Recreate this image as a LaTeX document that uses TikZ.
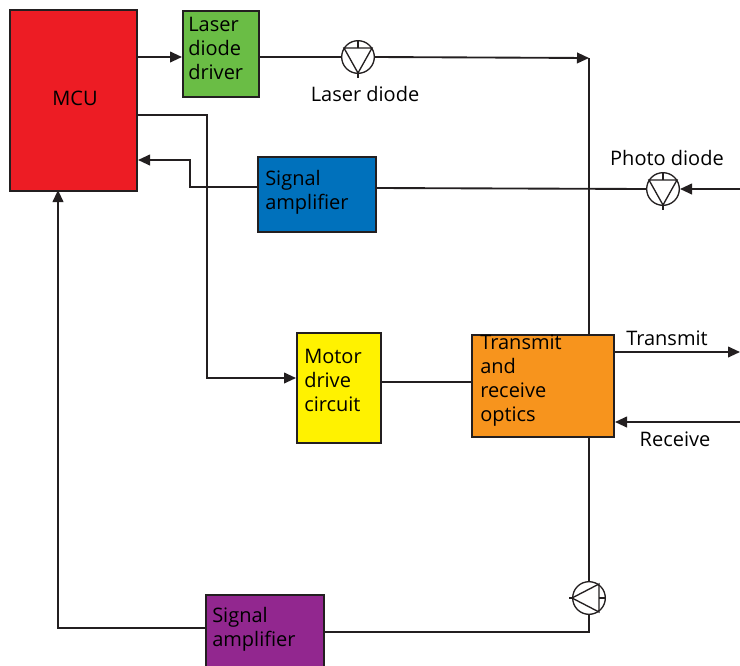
\documentclass[tikz,border=0pt]{standalone}
\usepackage{fontspec}
\setmainfont{Open Sans}
\usetikzlibrary{arrows.meta,calc}
\definecolor{cred}{HTML}{ED1C24}
\definecolor{cgreen}{HTML}{6ABD45}
\definecolor{cblue}{HTML}{0071BC}
\definecolor{cyellow}{HTML}{FFF200}
\definecolor{corange}{HTML}{F7941D}
\definecolor{cpurple}{HTML}{92278F}
\definecolor{ink}{HTML}{231F20}
\tikzset{
 x=0.75pt,y=-0.75pt,
 blockbox/.style={draw=ink,line width=1.5pt,inner sep=0pt,anchor=north west,font=\fontsize{15}{18}\selectfont},
 wire/.style={draw=ink,line width=1.4pt},
 arrowwire/.style={wire,-{Triangle[length=9pt,width=8pt]}},
 sym/.style={circle,draw=ink,line width=1pt,fill=white,minimum size=24.5pt,inner sep=0pt},
 symline/.style={draw=ink,line width=1pt},
 lbl/.style={font=\fontsize{15}{18}\selectfont,inner sep=0pt,text=black},
}
\newcommand{\blockbox}[7]{% name, x1,y1,x2,y2, color, text
 \node[blockbox,fill=#6,minimum width=#4*0.75pt-#2*0.75pt,minimum height=#5*0.75pt-#3*0.75pt] (#1) at (#2,#3) {};
 \node[lbl,anchor=north west,align=left] (#1t) at (#2+8,#3+7) {#7};
}
\begin{document}
\begin{tikzpicture}
\useasboundingbox (0,0) rectangle (740,665);
% boxes
\node[blockbox,fill=cred,minimum width=95.25pt,minimum height=135.75pt] (mcu) at (9,9) {};
\node[lbl] (mcut) at (75,98) {MCU};
\node[blockbox,fill=cgreen,minimum width=57pt,minimum height=64.5pt] (drv) at (182,10) {};
\node[lbl,anchor=north west,align=left] (drvt) at (188,17) {Laser\\diode\\driver};
\node[blockbox,fill=cblue,minimum width=88.5pt,minimum height=56.25pt] (amp1) at (257,156) {};
\node[lbl,anchor=north west,align=left] (amp1t) at (265,170) {Signal\\amplifier};
\node[blockbox,fill=cyellow,minimum width=63pt,minimum height=82.5pt] (mot) at (296,332) {};
\node[lbl,anchor=north west,align=left] (mott) at (304,349) {Motor\\drive\\circuit};
\node[blockbox,fill=corange,minimum width=106.5pt,minimum height=76.5pt] (opt) at (471,334) {};
\node[lbl,anchor=north west,align=left] (optt) at (480,335) {Transmit\\and\\receive\\optics};
\node[blockbox,fill=cpurple,minimum width=88.5pt,minimum height=56.25pt] (amp2) at (205,594) {};
\node[lbl,anchor=north west,align=left] (amp2t) at (212,607) {Signal\\amplifier};
% free coordinates
\coordinate (top) at (589,58);
\coordinate (jn) at (589,632);
\coordinate (pin) at (740,189);
\coordinate (txo) at (740,352);
\coordinate (rxi) at (740,422);
% symbols
\node[sym] (ld) at (358,57) {};
\node[sym] (pd) at (663,189) {};
\node[sym] (tr) at (589,598) {};
% connectors
\path[arrowwire] (mcu.east |- 0,57) -- (drv.west |- 0,57);
\path[wire] (drv.east |- 0,57) -- (ld.west);
\path[arrowwire] (ld.east) -- (top);
\path[wire] (top) -- (opt.north -| top);
\path[wire] (opt.south -| top) -- (tr.north);
\path[wire] (tr.south) -- (jn) -- (amp2.east |- jn);
\path[arrowwire] (mcu.east |- 0,115) -- (207,115) -- (207,378) -- (mot.west |- 0,378);
\path[arrowwire] (amp1.west |- 0,187) -- (190,187) -- (190,160) -- (mcu.east |- 0,160);
\path[wire] (amp1.east |- 0,188) -- (pd.west);
\path[arrowwire] (pin) -- (pd.east);
\path[wire] (mot.east |- 0,382) -- (opt.west |- 0,382);
\path[arrowwire] (opt.east |- txo) -- (txo);
\path[arrowwire] (rxi) -- (opt.east |- rxi);
\path[arrowwire] (amp2.west |- 0,628) -- (58,628) -- (58,190);
% diode glyphs
\foreach \n in {ld,pd}{
 \path[symline] ($(\n)+(-14,-9)$) -- ($(\n)+(14,-9)$) -- ($(\n)+(0,16)$) -- cycle;
 \path[symline] ($(\n)+(0,-16)$) -- ($(\n)+(0,-9)$);
 \path[symline] ($(\n)+(0,14)$) -- ($(\n)+(0,21)$);
}
\path[symline] ($(tr)+(10,-14)$) -- ($(tr)+(10,14)$) -- ($(tr)+(-17,0)$) -- cycle;
\path[symline] ($(tr)+(10,0)$) -- ($(tr)+(17,0)$);
\path[symline] ($(tr)+(-17,0)$) -- ($(tr)+(-20,0)$);
% labels
\node[lbl] (ldl) at (365,94) {Laser diode};
\node[lbl] (pdl) at (667,158) {Photo diode};
\node[lbl] (txl) at (667,338) {Transmit};
\node[lbl] (rxl) at (675,439) {Receive};
\end{tikzpicture}
\end{document}
